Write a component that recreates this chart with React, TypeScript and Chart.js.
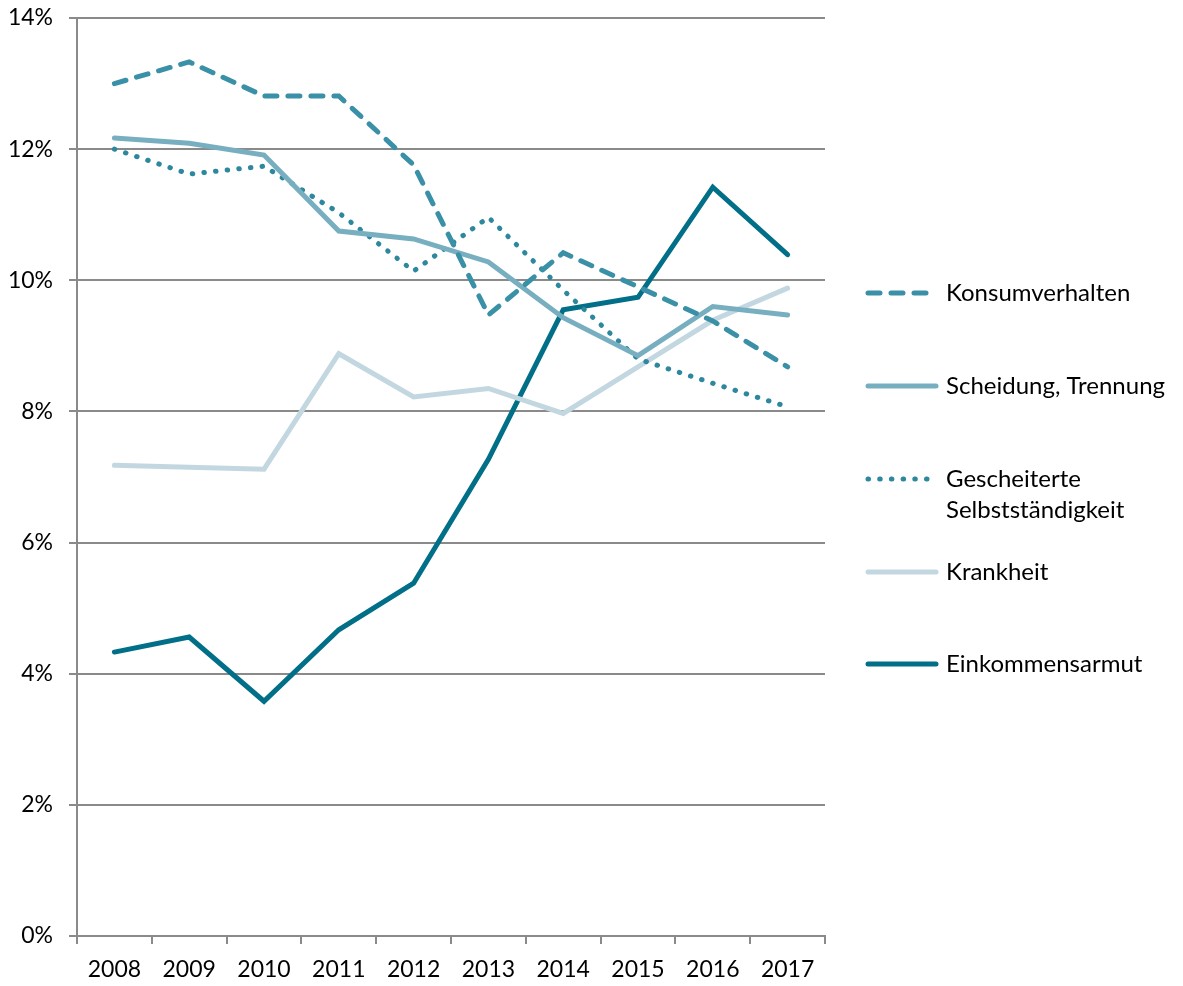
import React, { useEffect, useRef } from "react";
import { Chart, registerables } from "chart.js";

Chart.register(...registerables);

const years = ["2008", "2009", "2010", "2011", "2012", "2013", "2014", "2015", "2016", "2017"];

const konsumverhalten = [13.0, 13.33, 12.81, 12.81, 11.76, 9.47, 10.42, 9.9, 9.38, 8.68];
const scheidung = [12.17, 12.09, 11.91, 10.75, 10.63, 10.28, 9.43, 8.85, 9.6, 9.47];
const selbststaendigkeit = [12.0, 11.62, 11.74, 11.03, 10.14, 10.96, 9.85, 8.8, 8.43, 8.07];
const krankheit = [7.18, 7.15, 7.12, 8.88, 8.22, 8.35, 7.97, 8.68, 9.39, 9.88];
const einkommensarmut = [4.33, 4.56, 3.58, 4.67, 5.38, 7.27, 9.55, 9.74, 11.42, 10.39];

const legendLabels = [
  ["Konsumverhalten"],
  ["Scheidung, Trennung"],
  ["Gescheiterte", "Selbstständigkeit"],
  ["Krankheit"],
  ["Einkommensarmut"],
];

const FONT = "Lato, 'Open Sans', sans-serif";

const legendPlugin = {
  id: "customLegend",
  afterDraw(chart: any) {
    const ctx = chart.ctx;
    const ys = [293, 386, 479, 572, 664];
    const x0 = 868;
    const x1 = 936;
    const tx = 946;
    ctx.save();
    chart.data.datasets.forEach((ds: any, i: number) => {
      const y = ys[i];
      ctx.beginPath();
      ctx.strokeStyle = ds.borderColor;
      ctx.lineWidth = ds.borderWidth;
      ctx.lineCap = "round";
      ctx.setLineDash(ds.borderDash || []);
      ctx.moveTo(x0, y);
      ctx.lineTo(i === 2 ? x1 - 2 : x1, y);
      ctx.stroke();
      ctx.setLineDash([]);
      ctx.fillStyle = "#000";
      ctx.font = `24px ${FONT}`;
      ctx.textAlign = "left";
      ctx.textBaseline = "middle";
      legendLabels[i].forEach((t, j) => {
        ctx.fillText(t, tx, y + j * 31);
      });
    });
    ctx.restore();
  },
};

export default function App() {
  const ref = useRef<HTMLCanvasElement>(null);
  useEffect(() => {
    if (!ref.current) return;
    const common = {
      pointRadius: 0,
      pointHoverRadius: 0,
      fill: false,
      tension: 0,
      borderJoinStyle: "miter" as const,
      borderCapStyle: "round" as const,
      borderWidth: 5,
    };
    const chart = new Chart(ref.current, {
      type: "line",
      data: {
        labels: years,
        datasets: [
          { ...common, label: "Konsumverhalten", data: konsumverhalten, borderColor: "#3a90a6", backgroundColor: "#3a90a6", borderDash: [12, 11] },
          { ...common, label: "Scheidung, Trennung", data: scheidung, borderColor: "#78afc0", backgroundColor: "#78afc0" },
          { ...common, label: "Gescheiterte Selbstständigkeit", data: selbststaendigkeit, borderColor: "#2d889e", backgroundColor: "#2d889e", borderDash: [0.5, 11.2] },
          { ...common, label: "Krankheit", data: krankheit, borderColor: "#c3d7e1", backgroundColor: "#c3d7e1" },
          { ...common, label: "Einkommensarmut", data: einkommensarmut, borderColor: "#006f87", backgroundColor: "#006f87" },
        ],
      },
      options: {
        animation: false,
        responsive: true,
        maintainAspectRatio: false,
        layout: { padding: { left: 0, right: 358, top: 18, bottom: 0 } },
        plugins: {
          legend: { display: false },
          tooltip: { enabled: false },
        },
        scales: {
          x: {
            type: "category",
            offset: true,
            grid: {
              offset: true,
              drawOnChartArea: false,
              drawTicks: true,
              tickLength: 8,
              color: "#8a8a8a",
              lineWidth: 2,
            },
            border: { display: true, color: "#8a8a8a", width: 2 },
            ticks: {
              color: "#000",
              font: { family: FONT, size: 23 },
              padding: 12,
              maxRotation: 0,
              autoSkip: false,
            },
            afterFit(scale: any) {
              scale.height = 50;
            },
          },
          y: {
            min: 0,
            max: 14,
            ticks: {
              stepSize: 2,
              color: "#000",
              font: { family: FONT, size: 23 },
              padding: 16,
              callback: (v: any) => `${v}%`,
            },
            grid: {
              color: "#8a8a8a",
              lineWidth: 2,
              tickLength: 8,
              drawTicks: true,
            },
            border: { display: true, color: "#8a8a8a", width: 2 },
            afterFit(scale: any) {
              scale.width = 77;
              scale.paddingTop = 0;
            },
          },
        },
      },
      plugins: [legendPlugin],
    });
    return () => chart.destroy();
  }, []);
  return (
    <div style={{ position: "absolute", left: 0, top: 0, width: 1183, height: 986, background: "#fff" }}>
      <canvas ref={ref} />
    </div>
  );
}
